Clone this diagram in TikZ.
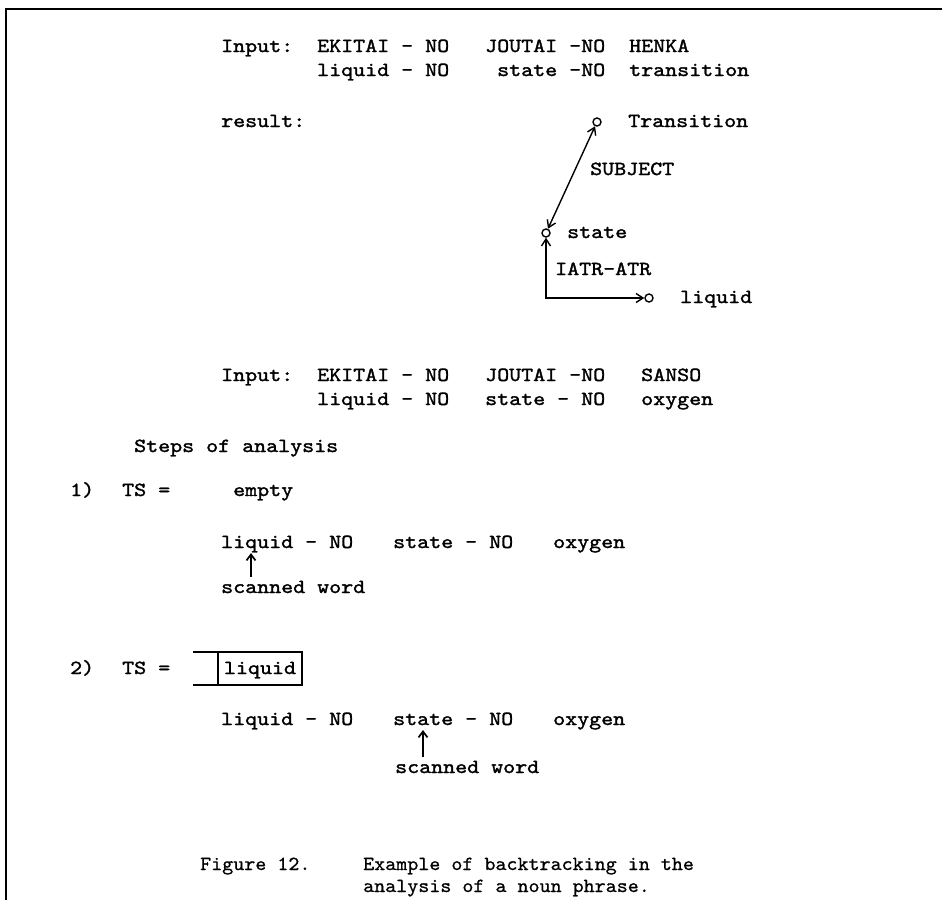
\documentclass[tikz,border=0pt]{standalone}
\usepackage{fontspec}
\newfontfamily\typew[FakeBold=1.6,FakeStretch=1.143]{lmmono10-regular.otf}
\newfontfamily\captw[FakeBold=0.7,FakeStretch=1.05]{lmmono10-regular.otf}
\usetikzlibrary{arrows.meta}
\begin{document}
\begin{tikzpicture}[x=1pt,y=-1pt,
  txt/.style={anchor=base west,inner sep=0pt,font=\typew\fontsize{20}{20}\selectfont},
  captxt/.style={anchor=base west,inner sep=0pt,font=\captw\fontsize{20}{20}\selectfont},
  vertex/.style={circle,draw,line width=1.4pt,minimum size=8pt,inner sep=0pt},
  link/.style={line width=1.4pt,{Straight Barb[length=7pt,width=9pt]}-{Straight Barb[length=7pt,width=9pt]}},
  ptr/.style={line width=1.7pt,-{Straight Barb[length=6pt,width=9pt]}},
  frame/.style={line width=2.8pt}]
\useasboundingbox (0,0) rectangle (942,921);

% page frame
\coordinate (ftl) at (6,9);
\coordinate (ftr) at (942,9);
\coordinate (fbl) at (6,900);
\draw[frame] (ftr) -- (ftl) -- (fbl);

% first input phrase with glosses
\node[txt] (inA) at (221,52) {Input:};
\node[txt] (ekA) at (317,52) {EKITAI - NO};
\node[txt] (joA) at (485,52) {JOUTAI -NO};
\node[txt] (heA) at (629,52) {HENKA};
\node[txt] (glA1) at (317,76) {liquid - NO};
\node[txt] (glA2) at (497,76) {state -NO};
\node[txt] (glA3) at (629,76) {transition};

% result graph
\node[txt] (res) at (221,127) {result:};
\node[vertex] (tr) at (597,122) {};
\node[txt] (trl) at (628,127) {Transition};
\node[vertex] (st) at (546,233) {};
\node[txt] (stl) at (567,238) {state};
\node[vertex] (lq) at (649,298) {};
\node[txt] (lql) at (680,303) {liquid};
\node[txt] (subj) at (590,175) {SUBJECT};
\node[txt] (iatr) at (555,275) {IATR-ATR};
\draw[link] (st) -- (tr);
\draw[link] (st) |- (lq);

% second input phrase with glosses
\node[txt] (inB) at (221,381) {Input:};
\node[txt] (ekB) at (317,381) {EKITAI - NO};
\node[txt] (joB) at (485,381) {JOUTAI -NO};
\node[txt] (saB) at (641,381) {SANSO};
\node[txt] (glB1) at (317,405) {liquid - NO};
\node[txt] (glB2) at (485,405) {state - NO};
\node[txt] (glB3) at (641,405) {oxygen};

\node[txt] (steps) at (134,452) {Steps of analysis};

% step 1
\node[txt] (n1) at (70,496) {1)};
\node[txt] (ts1) at (122,496) {TS =};
\node[txt] (emp) at (233,496) {empty};
\node[txt] (r1a) at (221,548) {liquid - NO};
\node[txt] (r1b) at (393,548) {state - NO};
\node[txt] (r1c) at (553,548) {oxygen};
\node[txt] (sc1) at (221,593) {scanned word};
\coordinate (p1t) at (251,553);
\coordinate (p1b) at (251,577);
\draw[ptr] (p1b) -- (p1t);

% step 2
\node[txt] (n2) at (70,674) {2)};
\node[txt] (ts2) at (122,674) {TS =};
\node[txt,anchor=base] (tsv) at (260,674) {liquid};
\coordinate (bxl1) at (193,652);
\coordinate (bxl2) at (193,685);
\coordinate (bxd1) at (218,652);
\coordinate (bxd2) at (218,685);
\coordinate (bxr1) at (302,652);
\coordinate (bxr2) at (302,685);
\draw[line width=1.4pt] (bxl1) -- (bxr1) -- (bxr2) -- (bxl2);
\draw[line width=1.4pt] (bxd1) -- (bxd2);
\node[txt] (r2a) at (221,725) {liquid - NO};
\node[txt] (r2b) at (393,725) {state - NO};
\node[txt] (r2c) at (553,725) {oxygen};
\node[txt] (sc2) at (395,773) {scanned word};
\coordinate (p2t) at (423,730);
\coordinate (p2b) at (423,757);
\draw[ptr] (p2b) -- (p2t);

% caption
\node[captxt] (cap1) at (200,870) {Figure 12.};
\node[captxt] (cap2) at (363,870) {Example of backtracking in the};
\node[captxt] (cap3) at (363,892) {analysis of a noun phrase.};
\end{tikzpicture}
\end{document}
